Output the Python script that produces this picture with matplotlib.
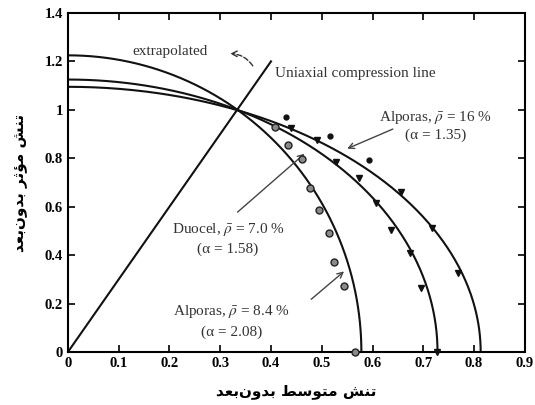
import numpy as np
import matplotlib
matplotlib.use("Agg")
import matplotlib.pyplot as plt

# yield surfaces: intercepts (x-intercept, y-intercept)
curve_a = [0.813, 0.728, 0.578]
curve_b = [1.095, 1.125, 1.225]

# uniaxial compression line
uni_x = [0.0, 0.4]
uni_y = [0.0, 1.2]

# measured points
circ_x = [0.407, 0.434, 0.462, 0.476, 0.495, 0.515, 0.525, 0.543, 0.565]
circ_y = [0.930, 0.855, 0.795, 0.679, 0.585, 0.491, 0.372, 0.273, 0.0]
tri_x = [0.440, 0.491, 0.529, 0.574, 0.606, 0.637, 0.673, 0.695, 0.727]
tri_y = [0.925, 0.876, 0.785, 0.720, 0.615, 0.504, 0.409, 0.264, 0.0]
dot_x = [0.430, 0.517, 0.594]
dot_y = [0.970, 0.892, 0.793]
small_tri_x = [0.657, 0.718, 0.768]
small_tri_y = [0.661, 0.512, 0.326]

xticks = [0, 0.1, 0.2, 0.3, 0.4, 0.5, 0.6, 0.7, 0.8, 0.9]
yticks = [0, 0.2, 0.4, 0.6, 0.8, 1.0, 1.2, 1.4]

xlabel_fa = "تنش متوسط بدون\u200cبعد"
ylabel_fa = "تنش مؤثر بدون\u200cبعد"

# simple persian shaping (matplotlib has no bidi / joining)
FORMS = {
    'ب': ('\uFE8F', '\uFE90', '\uFE91', '\uFE92'),
    'ت': ('\uFE95', '\uFE96', '\uFE97', '\uFE98'),
    'ث': ('\uFE99', '\uFE9A', '\uFE9B', '\uFE9C'),
    'س': ('\uFEB1', '\uFEB2', '\uFEB3', '\uFEB4'),
    'ش': ('\uFEB5', '\uFEB6', '\uFEB7', '\uFEB8'),
    'ط': ('\uFEC1', '\uFEC2', '\uFEC3', '\uFEC4'),
    'ع': ('\uFEC9', '\uFECA', '\uFECB', '\uFECC'),
    'م': ('\uFEE1', '\uFEE2', '\uFEE3', '\uFEE4'),
    'ن': ('\uFEE5', '\uFEE6', '\uFEE7', '\uFEE8'),
    'د': ('\uFEA9', '\uFEAA', None, None),
    'ر': ('\uFEAD', '\uFEAE', None, None),
    'و': ('\uFEED', '\uFEEE', None, None),
    'ؤ': ('\uFE85', '\uFE86', None, None),
}


def shape(text):
    out = []
    for i, c in enumerate(text):
        if c not in FORMS:
            out.append(c)
            continue
        prev = text[i - 1] if i > 0 else ''
        nxt = text[i + 1] if i + 1 < len(text) else ''
        jp = prev in FORMS and FORMS[prev][2] is not None
        jn = nxt in FORMS and FORMS[c][2] is not None
        iso, fin, ini, med = FORMS[c]
        if jp and jn:
            out.append(med)
        elif jp:
            out.append(fin)
        elif jn:
            out.append(ini)
        else:
            out.append(iso)
    return ''.join(reversed(out)).replace('\u200c', '')


plt.rcParams['font.family'] = ['Liberation Serif', 'DejaVu Serif']
plt.rcParams['mathtext.fontset'] = 'stix'

fig = plt.figure(figsize=(5.35, 4.05), dpi=100)
ax = fig.add_axes([0.127, 0.131, 0.854, 0.837])

t = np.linspace(0, np.pi / 2, 300)
for a, b in zip(curve_a, curve_b):
    ax.plot(a * np.sin(t), b * np.cos(t), color='#111', lw=1.5)
ax.plot(uni_x, uni_y, color='#111', lw=1.5)

ax.plot(circ_x, circ_y, 'o', ms=5, mfc='#8a8a8a', mec='#222', mew=1.0,
        ls='none', clip_on=False, zorder=5)
ax.plot(tri_x, tri_y, 'v', ms=5, color='#111', ls='none', clip_on=False, zorder=5)
ax.plot(dot_x, dot_y, 'o', ms=3.5, color='#111', ls='none')
ax.plot(small_tri_x, small_tri_y, 'v', ms=4, color='#111', ls='none')

txt = dict(fontsize=11, color='#333')
ax.text(0.201, 1.239, 'extrapolated', ha='center', va='center', **txt)
ax.text(0.407, 1.152, 'Uniaxial compression line', ha='left', va='center', **txt)
ax.text(0.724, 0.970, r'Alporas, $\bar{\rho}$ = 16 %', ha='center', va='center', **txt)
ax.text(0.725, 0.896, '(α = 1.35)', ha='center', va='center', **txt)
ax.text(0.316, 0.504, r'Duocel, $\bar{\rho}$ = 7.0 %', ha='center', va='center', **txt)
ax.text(0.314, 0.425, '(α = 1.58)', ha='center', va='center', **txt)
ax.text(0.322, 0.165, r'Alporas, $\bar{\rho}$ = 8.4 %', ha='center', va='center', **txt)
ax.text(0.322, 0.083, '(α = 2.08)', ha='center', va='center', **txt)

arr = dict(arrowstyle='->', color='#444', lw=1.0)
ax.annotate('', xy=(0.545, 0.835), xytext=(0.645, 0.925), arrowprops=arr)
ax.annotate('', xy=(0.470, 0.826), xytext=(0.330, 0.570), arrowprops=arr)
ax.annotate('', xy=(0.548, 0.340), xytext=(0.475, 0.210), arrowprops=arr)
ax.annotate('', xy=(0.314, 1.232), xytext=(0.367, 1.172),
            arrowprops=dict(arrowstyle='->', color='#333', lw=1.0, ls='--',
                            connectionstyle='arc3,rad=0.3'))

ax.set_xlim(0, 0.9)
ax.set_ylim(0, 1.4)
ax.set_xticks(xticks)
ax.set_yticks(yticks)
ax.set_xticklabels(['%g' % v for v in xticks])
ax.set_yticklabels(['%g' % v for v in yticks])
ax.tick_params(direction='in', top=True, right=True, length=5, width=1.2,
               labelsize=10.5)
for lab in ax.get_xticklabels() + ax.get_yticklabels():
    lab.set_fontweight('bold')
for s in ax.spines.values():
    s.set_linewidth(1.5)

ax.set_xlabel(shape(xlabel_fa), family='DejaVu Sans', fontweight='bold',
              fontsize=11, labelpad=10)
ax.set_ylabel(shape(ylabel_fa), family='DejaVu Sans', fontweight='bold',
              fontsize=11, labelpad=12)

fig.savefig('out.png', dpi=100)
